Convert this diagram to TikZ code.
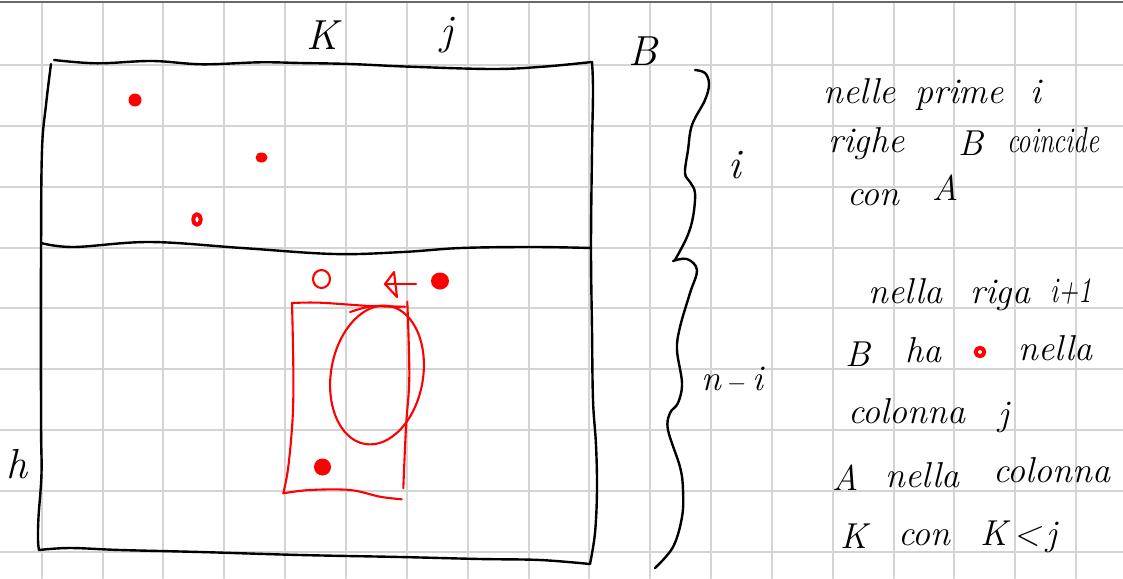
\documentclass[tikz,border=0pt]{standalone}
\usepackage{fontspec}
\usepackage{graphicx}
\definecolor{gridc}{RGB}{212,212,212}
\definecolor{topc}{RGB}{105,105,105}
\definecolor{inkred}{RGB}{255,0,0}
\begin{document}
\begin{tikzpicture}[x=1pt,y=-1pt,line cap=round,line join=round,
  gridline/.style={draw=gridc,line width=2pt},
  ink/.style={draw=black,line width=2.4pt},
  rink/.style={draw=inkred,line width=2.1pt},
  rfill/.style={fill=inkred},
  txt/.style={font=\fontsize{36}{40}\selectfont\itshape,inner sep=0pt,anchor=base west},
  lab/.style={font=\fontsize{42}{46}\selectfont\itshape,inner sep=0pt,anchor=base west}]
\useasboundingbox (0,0) rectangle (1123,578);
\fill[white] (0,0) rectangle (1123,578);
% grid paper
\foreach \k in {0,...,17} \draw[gridline] ({41.7+60.85*\k},3) -- ({41.7+60.85*\k},578);
\foreach \k in {0,...,8} \draw[gridline] (0,{65+60.85*\k}) -- (1123,{65+60.85*\k});
\draw[draw=topc,line width=2pt] (0,2.5) -- (1123,2.5);
% matrix outline
\draw[ink] plot[smooth,tension=0.6] coordinates {(54,60) (97,63.3) (152,61) (202,64.3) (260,62.3) (300,63) (350,64) (410,66.7) (493,69) (543,66.7) (592,62)};
\draw[ink] plot[smooth,tension=0.6] coordinates {(592,62) (593,90) (592,150) (591,248) (592,330) (593,400) (596,445) (597,490) (595,533) (590,564)};
\draw[ink] plot[smooth,tension=0.6] coordinates {(39,550) (70,548) (120,550) (200,552) (300,555) (400,557) (480,559) (540,560) (590,564)};
\draw[ink] plot[smooth,tension=0.6] coordinates {(51,64) (46,105) (42,150) (41,250) (41,420) (41.5,473) (38.5,517) (38,540) (39,550)};
\draw[ink] plot[smooth,tension=0.6] coordinates {(41,243) (74,247) (150,242) (242,248) (334,254) (403,252) (461,248) (533,247) (591,248)};
% braces
\draw[ink] plot[smooth,tension=0.6] coordinates {(695,70) (705,73) (709,84) (705,100) (692,125) (688,150) (685,173) (690,182) (695,193) (693,217) (687,237) (675,260)};
\draw[ink] plot[smooth,tension=0.6] coordinates {(673,261) (687,259) (697,270) (690,293) (680,327) (677,350) (682,383) (678,403) (670,413) (668,430) (680,467) (683,490) (682,517) (673,547) (655,568)};
% red marks, upper part
\fill[rfill] (135,100) circle [radius=6.5];
\fill[rfill] (261.5,157.5) ellipse [x radius=6, y radius=5];
\draw[draw=inkred,line width=4pt] (197,219.5) ellipse [x radius=3.8, y radius=5.3];
% red marks, lower part
\draw[rink] (321.5,279) ellipse [x radius=8.5, y radius=9];
\draw[rink] (416,284) -- (386,284);
\draw[rink] (394,272) -- (385,284) -- (397,297) -- cycle;
\fill[rfill] (440,281) ellipse [x radius=9, y radius=8.5];
\draw[rink] plot[smooth,tension=0.6] coordinates {(292,303) (320,302.7) (370,306) (405,306.7)};
\draw[rink] plot[smooth,tension=0.6] coordinates {(292,303) (293.3,366.7) (292.7,416.7) (288.3,466.7) (283.3,493.3)};
\draw[rink] plot[smooth,tension=0.6] coordinates {(283.3,493.3) (310,490) (350,490) (380,496.7) (401.7,499.3)};
\draw[rink] plot[smooth,tension=0.6] coordinates {(407.3,301.7) (409.3,376.7) (406,426.7) (403.3,488.3)};
\draw[rink,rotate around={-10:(377,375)}] (377,375) ellipse [x radius=46, y radius=70];
\draw[rink] (350,312) .. controls (372,305) .. (400,307);
\fill[rfill] (322.5,467) circle [radius=8.5];
% labels
\node[lab] (K) at (306,49) {K};
\node[lab] (jtop) at (440,45) {j};
\node[lab] (Blab) at (628,66) {B};
\node[lab] (h) at (6,478) {h};
\node[lab] (ilab) at (728,178) {i};
\node[txt] (nmi) at (701,390) {n\,$-$\,i};
% text block 1
\node[txt] (t1a) at (823,103) {nelle};
\node[txt] (t1b) at (915,103) {prime};
\node[txt] (t1c) at (1030,103) {i};
\node[txt] (t2a) at (828,152) {righe};
\node[txt] (t2b) at (958,155) {B};
\node[txt] (t2c) at (1007,152) {\scalebox{0.74}[1]{coincide}};
\node[txt] (t3a) at (847,205) {con};
\node[txt] (t3b) at (932,200) {A};
% text block 2
\node[txt] (t4a) at (868,303) {nella};
\node[txt] (t4b) at (970,303) {riga};
\node[txt] (t4c) at (1050,302) {\scalebox{0.75}[1]{i+1}};
\node[txt] (t5a) at (845,366) {B};
\node[txt] (t5b) at (905,362) {ha};
\draw[draw=inkred,line width=4pt] (980,352) ellipse [x radius=4.3, y radius=4.2];
\node[txt] (t5c) at (1018,360) {nella};
\node[txt] (t6a) at (848,423) {colonna};
\node[txt] (t6b) at (998,425) {j};
\node[txt] (t7a) at (832,490) {A};
\node[txt] (t7b) at (885,487) {nella};
\node[txt] (t7c) at (993,482) {colonna};
\node[txt] (t8a) at (840,548) {K};
\node[txt] (t8b) at (898,545) {con};
\node[txt] (t8c) at (980,545) {K\,<\,j};
\end{tikzpicture}
\end{document}
